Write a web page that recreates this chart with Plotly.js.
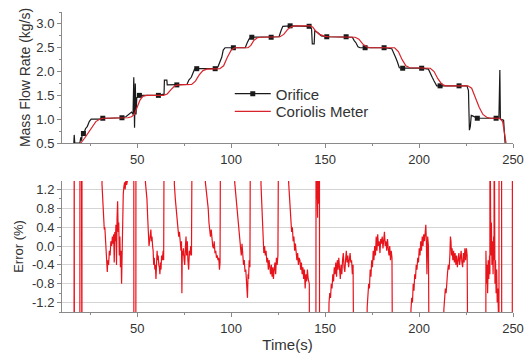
<!DOCTYPE html>
<html>
<head>
<meta charset="utf-8">
<script src="https://cdn.plot.ly/plotly-3.0.1.min.js"></script>
<style>html,body{margin:0;padding:0;background:#fff;}#chart{width:531px;height:359px;}</style>
</head>
<body>
<div id="chart"></div>
<script>
// ---- Mass flow rate, Orifice (time s, kg/s) ----
var orificeT = [16.3,16.5,16.8,19.5,20.0,20.4,20.8,21.5,22.5,23.5,24.5,25.5,30,31.7,35,41.9,44,45.5,47,47.8,48.2,48.6,49.0,49.4,49.8,51.2,61.3,63.5,64.3,64.5,65.8,66,71.1,76.5,77.5,78.8,79.5,80.5,81.7,91.5,93,94,95,95.8,96.8,101.2,107.5,108.5,109.5,110.5,111,121,125.5,126.5,127.5,131.4,141.5,142.8,143.2,144.2,144.5,146,148,150.9,161.2,164.5,165.5,166.5,167.5,168.6,171.3,181.4,185.5,186.5,187.5,188.5,189.5,191.3,201.4,205,206,207,208,209.4,211.2,221.3,225.5,226.3,226.8,227.3,227.8,228.5,230.7,231,241,242.5,243,243.3,245,245.8];
var orificeV = [0.5,0.67,0.5,0.5,0.62,0.55,0.7,0.68,0.8,0.85,0.95,1.0,1.0,1.02,1.02,1.03,1.05,1.1,1.15,1.1,1.88,0.82,1.75,1.1,1.45,1.5,1.5,1.52,1.52,1.82,1.82,1.72,1.72,1.73,1.82,1.88,1.95,2.05,2.06,2.06,2.1,2.2,2.3,2.45,2.5,2.5,2.5,2.6,2.68,2.72,2.72,2.72,2.73,2.85,2.95,2.96,2.95,2.9,2.58,2.58,2.85,2.82,2.75,2.73,2.73,2.72,2.65,2.6,2.52,2.5,2.5,2.5,2.48,2.4,2.3,2.2,2.08,2.07,2.07,2.05,1.95,1.88,1.8,1.7,1.7,1.7,1.7,1.6,0.77,0.85,1.08,1.07,1.02,1.02,1.02,1.02,2.03,1.0,0.98,0.5];
var markerT = [21.4,31.7,41.9,51.2,61.3,71.1,81.7,91.5,101.2,111,121.3,131.4,141.5,150.9,161.2,171.3,181.4,191.3,201.4,211.2,221.3,231,241];
var markerV = [0.7,1.02,1.03,1.5,1.5,1.72,2.06,2.06,2.5,2.72,2.72,2.96,2.95,2.73,2.73,2.5,2.5,2.07,2.07,1.7,1.7,1.02,1.02];

// ---- Mass flow rate, Coriolis meter ----
var coriolisT = [18,20,22,24,26,28,30,32,45,47,48.5,50,51.5,53,55,64,66,68,70,72,79,81,83,85,87,94,96,98,100,102,109,110.5,112,114,116,126,128,130,132,134,142,143.5,145,147,150,152,166,168,170,172,174,187,189,191,193,195,206,208,210,212,214,226,228,230,232,234,236,238,243,244.5,245.5,246.5];
var coriolisV = [0.45,0.5,0.6,0.72,0.85,0.95,1.0,1.02,1.03,1.05,1.1,1.25,1.4,1.48,1.5,1.5,1.53,1.62,1.7,1.72,1.73,1.8,1.93,2.02,2.05,2.06,2.12,2.3,2.45,2.5,2.5,2.55,2.65,2.71,2.72,2.73,2.78,2.88,2.94,2.96,2.96,2.93,2.85,2.78,2.74,2.73,2.72,2.68,2.58,2.52,2.5,2.5,2.42,2.25,2.12,2.08,2.07,2.0,1.85,1.74,1.7,1.7,1.65,1.45,1.25,1.1,1.04,1.02,1.02,0.95,0.7,0.45];

// ---- Error (%) segments, [time, error]; +/-3 = off scale ----
var errStart = [[16.4,-3],[16.5,3],[16.6,-3],[19.5,-3],[19.55,3],[20.3,3],[20.35,-3],[20.6,-3],[20.65,3],[31.2,3]];
var errSeg1 = [[31.3,1.3],[31.8,0.9],[32.2,0.5],[32.5,0.35],[32.8,0.4],[33.2,0.0],[33.5,-0.3],[33.8,-0.35],[34.1,-0.55],[34.4,-0.3],[34.8,-0.4],[35.2,-0.1],[35.6,-0.2],[36,0.1],[36.4,0.0],[36.8,0.2],[37.2,0.05],[37.5,0.25],[37.8,-0.35],[38.1,0.3],[38.4,0.1],[38.7,0.45],[39,-0.4],[39.3,0.6],[39.6,0.95],[39.9,0.3],[40.2,0.5],[40.5,-0.2],[40.8,0.2],[41.1,-0.45],[41.4,-0.1],[41.7,-0.8],[42,0.0],[42.3,0.6],[42.6,1.1],[42.9,1.25],[43.3,1.35],[43.6,1.2],[44,1.4],[44.4,1.3],[44.8,1.38],[45.2,3],[48.2,3],[48.25,-3],[49.3,-3],[49.35,3],[54.3,3]];
var errSeg2 = [[54.4,1.35],[54.8,1.2],[55.2,1.0],[55.6,0.6],[56,0.3],[56.3,0.0],[56.6,0.1],[57,0.2],[57.3,0.35],[57.6,0.1],[57.9,0.2],[58.2,0.0],[58.5,-0.1],[58.8,-0.4],[59.1,-0.25],[59.4,-0.5],[59.7,-0.4],[60,-0.7],[60.3,-0.3],[60.6,-0.1],[60.9,-0.3],[61.2,-0.2],[61.5,-0.4],[61.8,-0.45],[62.1,-0.6],[62.4,-0.35],[62.7,-0.5],[63,-0.2],[63.4,-0.3],[63.8,-0.1],[64.1,-0.3],[64.4,3],[69.7,3]];
var errSeg3 = [[69.8,1.3],[70.3,1.0],[70.8,0.8],[71.3,0.6],[71.7,0.4],[72.1,0.2],[72.5,0.3],[72.9,0.0],[73.3,-0.1],[73.6,0.1],[73.8,-1.0],[74,-0.1],[74.3,-0.2],[74.6,-0.05],[75,-0.3],[75.3,-0.4],[75.7,0.0],[76,0.2],[76.3,-0.2],[76.7,0.1],[77,-0.3],[77.4,-0.5],[77.8,-0.1],[78.1,-0.2],[78.5,0.0],[78.9,-0.2],[79.3,3],[86.2,3]];
var errSeg4 = [[86.3,1.35],[86.8,1.2],[87.3,1.0],[87.8,0.8],[88.2,0.5],[88.6,0.3],[89,0.2],[89.4,0.35],[89.8,0.1],[90.2,0.0],[90.6,-0.05],[91,0.1],[91.4,-0.15],[91.8,-0.1],[92.2,-0.25],[92.6,-0.2],[93,-0.3],[93.4,-0.25],[93.8,-0.5],[94.1,-0.35],[94.4,3],[101.8,3]];
var errSeg5 = [[101.9,1.35],[102.4,1.1],[103,0.9],[103.5,0.6],[104,0.4],[104.5,0.1],[105,0.0],[105.4,-0.2],[105.8,0.05],[106.2,-0.3],[106.6,-0.4],[107,-0.3],[107.4,-0.55],[107.8,-0.5],[108.1,-0.8],[108.4,-0.7],[108.7,-1.1],[109,-0.6],[109.3,-0.7],[109.6,-0.3],[110,-0.45],[110.3,3],[115.8,3]];
var errSeg6 = [[115.9,1.3],[116.3,0.9],[116.6,0.55],[117,0.2],[117.4,-0.15],[117.8,0.0],[118.2,-0.2],[118.6,-0.1],[119,-0.35],[119.4,-0.25],[119.8,-0.5],[120.2,-0.3],[120.6,-0.45],[121,-0.6],[121.4,-0.4],[121.8,-0.65],[122.2,-0.45],[122.5,-0.7],[122.9,-0.5],[123.3,-0.35],[123.7,-0.6],[124.1,-0.25],[124.5,-0.4],[124.9,-0.2],[125.3,3],[130.5,3]];
var errSeg7 = [[130.6,1.35],[131,1.0],[131.4,0.7],[131.8,0.5],[132.2,0.3],[132.6,0.4],[133,0.1],[133.4,0.2],[133.8,-0.1],[134.2,0.05],[134.6,-0.2],[135,-0.3],[135.4,-0.15],[135.8,-0.4],[136.2,-0.25],[136.6,-0.3],[137,-0.5],[137.4,-0.35],[137.8,-0.6],[138.2,-0.45],[138.6,-0.7],[139,-0.5],[139.4,-0.9],[139.8,-0.6],[140.2,-0.75],[140.6,-0.5],[141,-0.7],[141.6,-0.8],[141.7,-3],[145.1,-3],[145.2,3],[145.4,1.0],[145.7,1.4],[146,0.6],[146.3,3],[146.5,0.9],[146.8,1.3],[147,3],[147.05,-3],[151.5,-3]];
var errSeg8 = [[151.7,-1.35],[152.1,-1.2],[152.5,-1.0],[152.9,-1.1],[153.3,-0.8],[153.7,-0.9],[154.1,-0.6],[154.5,-0.75],[154.9,-0.45],[155.3,-0.6],[155.7,-0.35],[156.1,-0.65],[156.5,-0.3],[156.9,-0.5],[157.3,-0.25],[157.7,-0.55],[158.1,-0.7],[158.5,-0.4],[158.9,-0.6],[159.3,-0.3],[159.7,-0.15],[160.1,-0.45],[160.5,-0.55],[160.9,-0.3],[161.3,-0.1],[161.7,-0.35],[162.1,-0.2],[162.5,-0.45],[162.9,-0.25],[163.3,-0.15],[163.7,-0.35],[164.1,-0.3],[164.5,-0.6],[164.9,-0.4],[165.3,-3],[172.2,-3]];
var errSeg9 = [[172.4,-1.3],[172.8,-1.1],[173.2,-0.8],[173.6,-0.9],[174,-0.5],[174.4,-0.65],[174.8,-0.3],[175.2,-0.45],[175.6,-0.1],[176,-0.3],[176.4,0.0],[176.8,-0.2],[177.2,0.2],[177.6,-0.1],[178,0.25],[178.4,0.0],[178.8,0.1],[179.2,-0.15],[179.6,0.15],[180,0.05],[180.4,0.2],[180.8,-0.05],[181.2,0.1],[181.6,0.3],[182,0.0],[182.4,0.1],[182.8,-0.1],[183.2,0.15],[183.6,-0.05],[184,-0.2],[184.4,0.0],[184.8,-0.3],[185.2,-0.1],[185.6,-0.25],[185.9,-3],[195.5,-3]];
var errSeg10 = [[195.7,-1.35],[196.1,-1.1],[196.5,-1.2],[196.9,-0.8],[197.3,-0.95],[197.7,-0.6],[198.1,-0.7],[198.5,-0.4],[198.9,-0.5],[199.3,-0.25],[199.7,-0.35],[200.1,-0.05],[200.5,-0.2],[200.9,0.1],[201.3,-0.1],[201.7,0.2],[202.1,0.0],[202.5,0.25],[202.9,0.1],[203.3,0.4],[203.6,0.45],[203.9,0.1],[204.2,-0.6],[204.6,0.2],[205,0.0],[205.4,-3],[213,-3]];
var errSeg11 = [[213.2,-1.35],[213.6,-1.2],[214,-0.9],[214.4,-1.0],[214.8,-0.7],[215.2,-0.55],[215.6,-0.4],[216,-0.5],[216.4,-0.2],[216.7,0.2],[217,0.1],[217.3,-0.2],[217.6,-0.05],[218,-0.3],[218.4,-0.1],[218.8,-0.35],[219.2,-0.15],[219.6,-0.4],[220,-0.2],[220.4,-0.45],[220.8,-0.25],[221.2,-0.15],[221.6,-0.4],[222,-0.2],[222.4,-0.1],[222.8,-0.35],[223.2,-0.45],[223.6,-0.15],[224,-0.35],[224.4,-0.05],[224.8,-0.3],[225.2,-0.05],[225.6,-0.2],[226,-3],[235.5,-3]];
var errEnd = [[235.6,-0.1],[235.9,-0.8],[236.2,-0.4],[236.5,-1.0],[236.8,-0.3],[237.1,-0.7],[237.5,-0.2],[237.7,-0.6],[237.75,3],[237.85,0.3],[238.2,-0.2],[238.5,0.5],[238.8,-0.4],[239.1,0.1],[239.4,-0.6],[239.7,0.2],[239.9,-0.3],[240,3],[240.1,-0.2],[240.4,-0.8],[240.7,-0.3],[241,-1.0],[241.3,-0.5],[241.6,-1.2],[241.9,-0.9],[242.2,-1.35],[242.5,-3],[242.6,3],[243.9,3],[244,-3],[249.6,-3],[249.7,3]];

var massTicks = [0.5,1.0,1.5,2.0,2.5,3.0];
var errTicks = [-1.2,-0.8,-0.4,0.0,0.4,0.8,1.2];
var timeTicks = [50,100,150,200,250];

var errAll = [].concat(errStart, errSeg1, errSeg2, errSeg3, errSeg4, errSeg5, errSeg6, errSeg7, errSeg8, errSeg9, errSeg10, errSeg11, errEnd);

var txt = '#333333';
var axc = '#8a8a8a';
var FONT = 'Arial, "Liberation Sans", sans-serif';

var traces = [
  {x: orificeT, y: orificeV, mode: 'lines', line: {color: '#1a1a1a', width: 1.2}, showlegend: false, xaxis: 'x', yaxis: 'y', hoverinfo: 'skip'},
  {x: markerT, y: markerV, mode: 'markers', marker: {symbol: 'square', size: 5, color: '#1a1a1a'}, showlegend: false, xaxis: 'x', yaxis: 'y'},
  {x: [null], y: [null], name: 'Orifice', legend: 'legend', mode: 'lines+markers', line: {color: '#1a1a1a', width: 1.2}, marker: {symbol: 'square', size: 5, color: '#1a1a1a'}, xaxis: 'x', yaxis: 'y'},
  {x: coriolisT, y: coriolisV, name: 'Coriolis Meter', legend: 'legend2', mode: 'lines', line: {color: '#d9232b', width: 1.2}, xaxis: 'x', yaxis: 'y'},
  {x: errAll.map(function(p){return p[0];}), y: errAll.map(function(p){return p[1];}), mode: 'lines', line: {color: '#e8141c', width: 1.2}, showlegend: false, xaxis: 'x2', yaxis: 'y2'}
];

var xCommon = {
  range: [10, 250], tickvals: timeTicks, ticktext: timeTicks.map(String),
  showline: true, linecolor: axc, linewidth: 1, ticks: 'outside', ticklen: 4, tickcolor: axc,
  minor: {dtick: 25, tick0: 0, ticks: 'outside', ticklen: 2, tickcolor: axc, showgrid: false},
  showgrid: false, zeroline: false, tickfont: {size: 13, color: txt, family: FONT}
};

var legendBase = {xanchor: 'left', yanchor: 'top', bgcolor: 'rgba(0,0,0,0)', font: {size: 15, color: txt, family: FONT}, itemwidth: 36};

var layout = {
  width: 531, height: 359,
  margin: {l: 62, r: 18, t: 12, b: 47},
  paper_bgcolor: '#ffffff', plot_bgcolor: '#ffffff',
  font: {family: FONT, color: txt},
  showlegend: true,
  legend: Object.assign({}, legendBase, {x: 0.372, y: 0.782}),
  legend2: Object.assign({}, legendBase, {x: 0.372, y: 0.723}),
  xaxis: Object.assign({}, xCommon, {domain: [0, 1], anchor: 'y'}),
  yaxis: {
    domain: [0.5633, 1], anchor: 'x', range: [0.5, 3.25],
    tickvals: massTicks, ticktext: massTicks.map(function(v){return v.toFixed(1);}),
    showline: true, linecolor: axc, linewidth: 1, ticks: 'outside', ticklen: 4, tickcolor: axc,
    minor: {dtick: 0.25, tick0: 0.5, ticks: 'outside', ticklen: 2, tickcolor: axc, showgrid: false},
    showgrid: false, zeroline: false, tickfont: {size: 13, color: txt, family: FONT},
    title: {text: 'Mass Flow Rate (kg/s)', font: {size: 14, color: txt, family: FONT}, standoff: 2}
  },
  xaxis2: Object.assign({}, xCommon, {domain: [0, 1], anchor: 'y2',
    title: {text: 'Time(s)', font: {size: 15, color: txt, family: FONT}, standoff: 4}}),
  yaxis2: {
    domain: [0, 0.4367], anchor: 'x2', range: [-1.4, 1.38],
    tickvals: errTicks, ticktext: errTicks.map(function(v){return v.toFixed(1);}),
    showline: true, linecolor: axc, linewidth: 1, ticks: 'outside', ticklen: 4, tickcolor: axc,
    minor: {dtick: 0.2, tick0: 0, ticks: 'outside', ticklen: 2, tickcolor: axc, showgrid: false},
    showgrid: true, gridcolor: '#d4d4d4', gridwidth: 1, zeroline: false,
    tickfont: {size: 13, color: txt, family: FONT},
    title: {text: 'Error (%)', font: {size: 13, color: txt, family: FONT}, standoff: 5}
  }
};

Plotly.newPlot('chart', traces, layout, {displayModeBar: false, staticPlot: true});
</script>
</body>
</html>
